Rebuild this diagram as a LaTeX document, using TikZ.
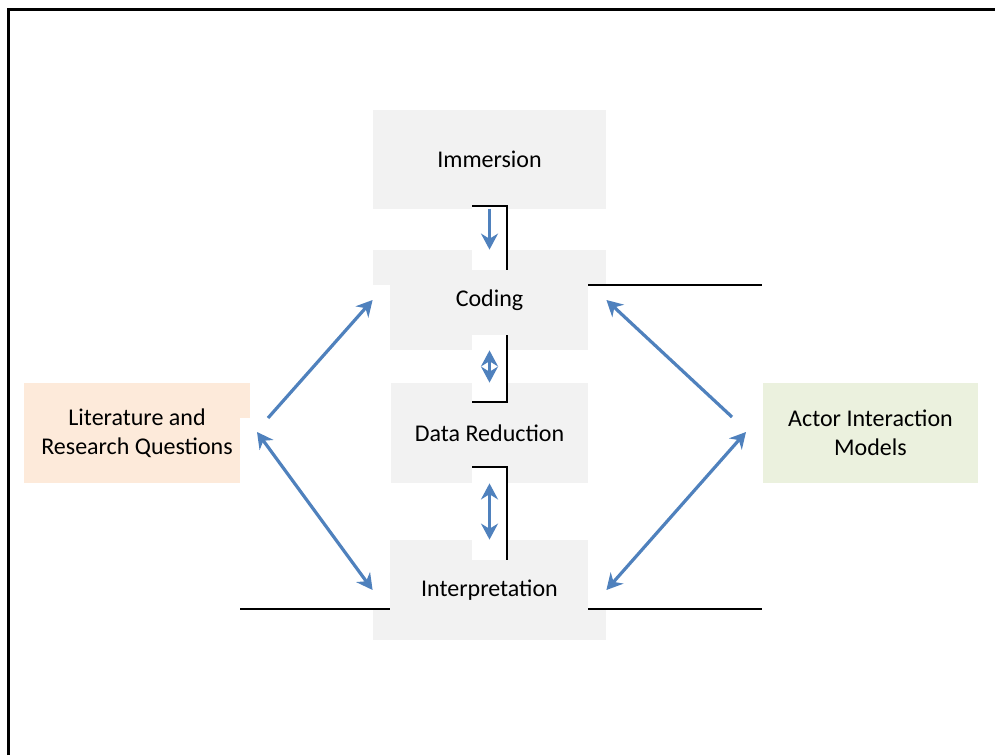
\documentclass[tikz,border=0pt]{standalone}
\usepackage{fontspec}
\setmainfont{Carlito}
\usepackage{tikz}
\usetikzlibrary{arrows.meta}

\definecolor{boxgray}{HTML}{F2F2F2}
\definecolor{litpeach}{HTML}{FDEADA}
\definecolor{actgreen}{HTML}{EBF1DE}
\definecolor{arrowblue}{HTML}{4F81BD}

\tikzset{
  stagebox/.style={fill=boxgray, inner sep=0pt, minimum height=50pt,
    font=\fontsize{12}{14.6}\selectfont, align=center},
  sidebox/.style={stagebox, minimum width=113pt},
  flow/.style={draw=arrowblue, line width=1.6pt, -{Stealth[length=8pt,width=8.5pt]}},
  twoway/.style={flow, {Stealth[length=8pt,width=8.5pt]}-{Stealth[length=8pt,width=8.5pt]}},
  edge/.style={draw=black, line width=0.6pt}
}

\begin{document}
\begin{tikzpicture}[x=0.5pt, y=-0.5pt]
\useasboundingbox (0,0) rectangle (995,755);
% frame
\draw[line width=1.5pt] (8,755) |- (995,9);

% stage boxes
\node[stagebox, minimum width=116.5pt, minimum height=49.5pt] (imm) at (489.5,159) {Immersion};
\node[stagebox, minimum width=116.5pt] (cod) at (489.5,300) {Coding};
\node[stagebox, minimum width=99pt] (dat) at (489.5,433) {Data Reduction};
\node[stagebox, minimum width=116.5pt] (int) at (489.5,590) {Interpretation};
\node[sidebox, fill=litpeach] (lit) at (137,433) {Literature and\\Research Questions};
\node[sidebox, fill=actgreen, minimum width=107.5pt] (act) at (870.5,433) {Actor Interaction\\Models};

% white text boxes lying over the stages
\fill[white] (268,285) rectangle (390,418);
\fill[white] (240,418) rectangle (390,609);
\fill[white] (588,285) rectangle (762,418);
\fill[white] (588,418) rectangle (762,609);
\foreach \top/\bot in {206/270, 335/402, 467/560}
  \fill[white] (472,\top) rectangle (507,\bot);

% their borders
\draw[edge] (472,206) -| (507,270);
\draw[edge] (507,335) |- (472,402);
\draw[edge] (472,467) -| (507,560);
\draw[edge] (588,285) -- (762,285);
\draw[edge] (240,609) -- (390,609);
\draw[edge] (588,609) -- (762,609);

% arrows
\coordinate (litup) at (268,418);
\coordinate (litlow) at (257,432);
\coordinate (actup) at (732,417);
\coordinate (actlow) at (746,432);
\draw[flow] (imm.south) -- (cod.north);
\draw[twoway] (cod.south) -- (dat.north);
\draw[twoway] (dat.south) -- (int.north);
\draw[flow] (litup) -- (cod.west);
\draw[twoway] (litlow) -- (int.west);
\draw[flow] (actup) -- (cod.east);
\draw[twoway] (actlow) -- (int.east);
\end{tikzpicture}
\end{document}
